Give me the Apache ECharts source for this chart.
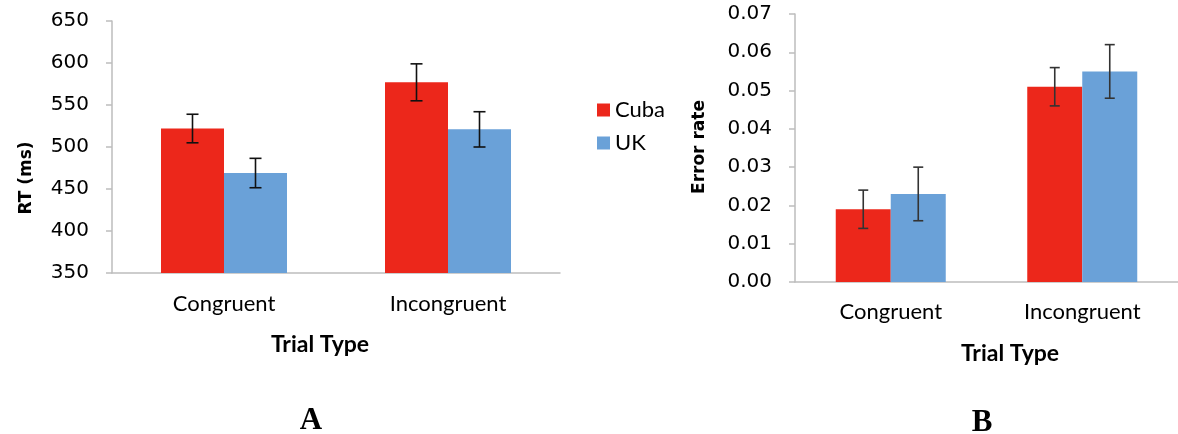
<!DOCTYPE html>
<html>
<head>
<meta charset="utf-8">
<script src="https://cdn.jsdelivr.net/npm/echarts@6/dist/echarts.min.js"></script>
<style>
  html, body { margin: 0; padding: 0; background: #fff; }
  #main { width: 1178px; height: 434px; }
</style>
</head>
<body>
<div id="main"></div>
<script>
// data
var categories = ['Congruent', 'Incongruent'];
var seriesNames = ['Cuba', 'UK'];

// panel A : reaction time (ms)
var rtCuba = [522, 577];
var rtCubaErr = [17, 22];
var rtUK = [469, 521];
var rtUKErr = [17.5, 21];
var rtTicks = [350, 650, 50];

// panel B : error rate
var errCuba = [0.019, 0.051];
var errCubaErr = [0.005, 0.005];
var errUK = [0.023, 0.055];
var errUKErr = [0.007, 0.007];
var errTicks = [0, 0.07, 0.01];

var red = '#EC271B';
var blue = '#6AA1D8';
var axisGrey = '#BDBDBD';

var myChart = echarts.init(document.getElementById('main'));

function errData(vals, errs) {
	var out = [];
	for (var i = 0; i < vals.length; i++) {
		out.push([i, vals[i], errs[i]]);
	}
	return out;
}

// error bar drawn at the centre of one bar of the pair
function errRender(offset, cap, color) {
	return function (params, api) {
		var c = api.value(0), v = api.value(1), e = api.value(2);
		var hi = api.coord([c, v + e]);
		var lo = api.coord([c, v - e]);
		var x = hi[0] + offset;
		var st = { stroke: color, lineWidth: 1.6 };
		return {
			type: 'group',
			children: [
				{ type: 'line', shape: { x1: x, y1: hi[1], x2: x, y2: lo[1] }, style: st },
				{ type: 'line', shape: { x1: x - cap, y1: hi[1], x2: x + cap, y2: hi[1] }, style: st },
				{ type: 'line', shape: { x1: x - cap, y1: lo[1], x2: x + cap, y2: lo[1] }, style: st }
			]
		};
	};
}

function xAx(idx) {
	return {
		type: 'category',
		gridIndex: idx,
		data: categories,
		axisLine: { lineStyle: { color: axisGrey, width: 1.5 } },
		axisTick: { length: 6, lineStyle: { color: axisGrey, width: 1.5 } },
		axisLabel: {
			margin: idx === 0 ? 20 : 19,
			color: '#000',
			fontFamily: 'Lato',
			fontSize: 22
		}
	};
}

function yAx(idx, t, fmt) {
	return {
		type: 'value',
		gridIndex: idx,
		min: t[0],
		max: t[1],
		interval: t[2],
		splitLine: { show: false },
		axisLine: { show: true, lineStyle: { color: axisGrey, width: 1.5 } },
		axisTick: { show: true, length: 6, lineStyle: { color: axisGrey, width: 1.5 } },
		axisLabel: {
			margin: 23,
			color: '#000',
			fontFamily: 'DejaVu Sans',
			fontSize: 20,
			formatter: fmt
		}
	};
}

var bw1 = 63, bw2 = 55;

var option = {
	animation: false,
	backgroundColor: '#fff',
	legend: {
		data: seriesNames,
		orient: 'vertical',
		left: 592,
		top: 94,
		icon: 'rect',
		itemWidth: 13,
		itemHeight: 13,
		itemGap: 11,
		textStyle: { fontFamily: 'Lato', fontSize: 22, color: '#000', lineHeight: 22 }
	},
	grid: [
		{ left: 112, top: 21, width: 448, height: 252 },
		{ left: 795, top: 14, width: 384, height: 268 }
	],
	xAxis: [xAx(0), xAx(1)],
	yAxis: [
		yAx(0, rtTicks, null),
		yAx(1, errTicks, function (v) { return v.toFixed(2); })
	],
	series: [
		{ name: 'Cuba', type: 'bar', xAxisIndex: 0, yAxisIndex: 0, data: rtCuba, barWidth: bw1, barGap: 0, itemStyle: { color: red } },
		{ name: 'UK', type: 'bar', xAxisIndex: 0, yAxisIndex: 0, data: rtUK, barWidth: bw1, barGap: 0, itemStyle: { color: blue } },
		{ name: 'Cuba', type: 'bar', xAxisIndex: 1, yAxisIndex: 1, data: errCuba, barWidth: bw2, barGap: 0, itemStyle: { color: red } },
		{ name: 'UK', type: 'bar', xAxisIndex: 1, yAxisIndex: 1, data: errUK, barWidth: bw2, barGap: 0, itemStyle: { color: blue } },
		{ type: 'custom', xAxisIndex: 0, yAxisIndex: 0, z: 5, data: errData(rtCuba, rtCubaErr), renderItem: errRender(-bw1 / 2, 6, '#111') },
		{ type: 'custom', xAxisIndex: 0, yAxisIndex: 0, z: 5, data: errData(rtUK, rtUKErr), renderItem: errRender(bw1 / 2, 6, '#111') },
		{ type: 'custom', xAxisIndex: 1, yAxisIndex: 1, z: 5, data: errData(errCuba, errCubaErr), renderItem: errRender(-bw2 / 2, 5, '#333') },
		{ type: 'custom', xAxisIndex: 1, yAxisIndex: 1, z: 5, data: errData(errUK, errUKErr), renderItem: errRender(bw2 / 2, 5, '#333') }
	],
	graphic: [
		{ type: 'text', x: 27, y: 178, rotation: Math.PI / 2, style: { text: 'RT (ms)', font: 'bold 17px "DejaVu Sans"', fill: '#000', align: 'center', verticalAlign: 'middle' } },
		{ type: 'text', x: 700, y: 147, rotation: Math.PI / 2, style: { text: 'Error rate', font: 'bold 17px "DejaVu Sans"', fill: '#000', align: 'center', verticalAlign: 'middle' } },
		{ type: 'text', x: 320, y: 345, style: { text: 'Trial Type', font: 'bold 23px Lato', fill: '#000', align: 'center', verticalAlign: 'middle' } },
		{ type: 'text', x: 1010, y: 354, style: { text: 'Trial Type', font: 'bold 23px Lato', fill: '#000', align: 'center', verticalAlign: 'middle' } },
		{ type: 'text', x: 311, y: 405, style: { text: 'A', font: 'bold 31px "Liberation Serif"', fill: '#000', align: 'center', verticalAlign: 'top' } },
		{ type: 'text', x: 982, y: 407, style: { text: 'B', font: 'bold 31px "Liberation Serif"', fill: '#000', align: 'center', verticalAlign: 'top' } }
	]
};
myChart.setOption(option);
</script>
</body>
</html>
